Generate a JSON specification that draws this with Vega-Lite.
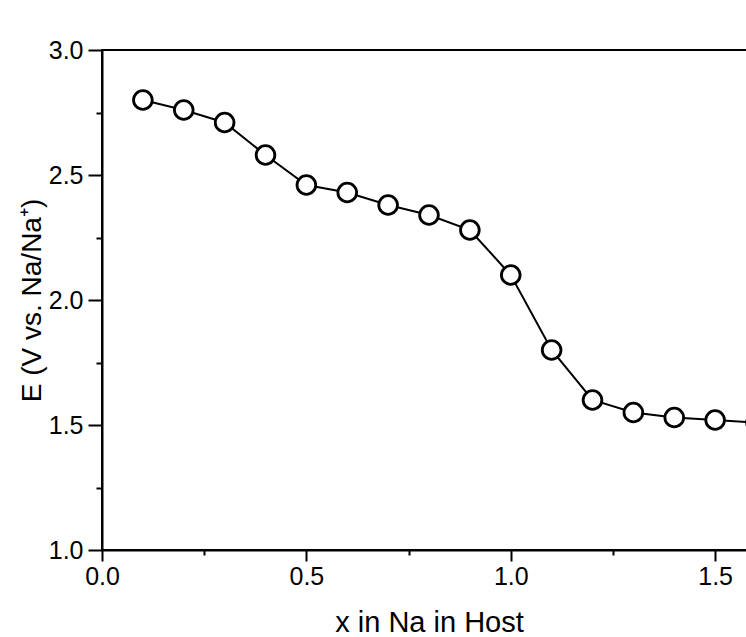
{
  "$schema": "https://vega.github.io/schema/vega-lite/v6.json",
  "autosize": {"type": "none"},
  "padding": {"left": 102, "top": 50, "right": 0, "bottom": 87},
  "width": 654,
  "height": 500,
  "background": "white",
  "config": {
    "view": {"stroke": "black", "strokeWidth": 2},
    "font": "Liberation Sans",
    "axis": {"grid": false, "domainColor": "black", "tickColor": "black", "labelColor": "black", "titleColor": "black", "labelFont": "Liberation Sans", "titleFont": "Liberation Sans", "labelFontSize": 25, "titleFontSize": 29, "titleFontWeight": "normal", "domainWidth": 2, "tickWidth": 2, "labelFlush": false, "labelOverlap": false}
  },
  "data": {"values": [
    {"x": 0.1, "E": 2.80}, {"x": 0.2, "E": 2.76}, {"x": 0.3, "E": 2.71}, {"x": 0.4, "E": 2.58},
    {"x": 0.5, "E": 2.46}, {"x": 0.6, "E": 2.43}, {"x": 0.7, "E": 2.38}, {"x": 0.8, "E": 2.34},
    {"x": 0.9, "E": 2.28}, {"x": 1.0, "E": 2.10}, {"x": 1.1, "E": 1.80}, {"x": 1.2, "E": 1.60},
    {"x": 1.3, "E": 1.55}, {"x": 1.4, "E": 1.53}, {"x": 1.5, "E": 1.52}, {"x": 1.6, "E": 1.51}
  ]},
  "layer": [
    {
      "mark": {"type": "line", "color": "black", "strokeWidth": 2},
      "encoding": {
        "x": {"field": "x", "type": "quantitative", "scale": {"domain": [0, 1.6], "nice": false, "zero": false},
          "axis": {"orient": "bottom", "values": [0, 0.5, 1.0, 1.5], "format": ".1f", "tickSize": 11, "labelPadding": 3, "title": "x in Na in Host", "titlePadding": 19}},
        "y": {"field": "E", "type": "quantitative", "scale": {"domain": [1, 3], "nice": false, "zero": false},
          "axis": {"orient": "left", "values": [1.0, 1.5, 2.0, 2.5, 3.0], "format": ".1f", "tickSize": 14, "labelPadding": 5, "title": "E (V vs. Na/Na⁺)", "titleFontSize": 28, "titlePadding": 2}}
      }
    },
    {
      "mark": {"type": "point", "shape": "circle", "filled": true, "fill": "white", "stroke": "black", "strokeWidth": 2.8, "size": 350, "opacity": 1, "clip": false},
      "encoding": {
        "x": {"field": "x", "type": "quantitative", "axis": null},
        "y": {"field": "E", "type": "quantitative", "axis": null}
      }
    },
    {
      "mark": {"type": "point", "opacity": 0},
      "encoding": {
        "x": {"field": "x", "type": "quantitative",
          "axis": {"orient": "bottom", "values": [0.25, 0.75, 1.25], "labels": false, "domain": false, "tickSize": 5, "title": null}},
        "y": {"field": "E", "type": "quantitative",
          "axis": {"orient": "left", "values": [1.25, 1.75, 2.25, 2.75], "labels": false, "domain": false, "tickSize": 6, "title": null}}
      }
    }
  ],
  "resolve": {"axis": {"x": "independent", "y": "independent"}}
}
